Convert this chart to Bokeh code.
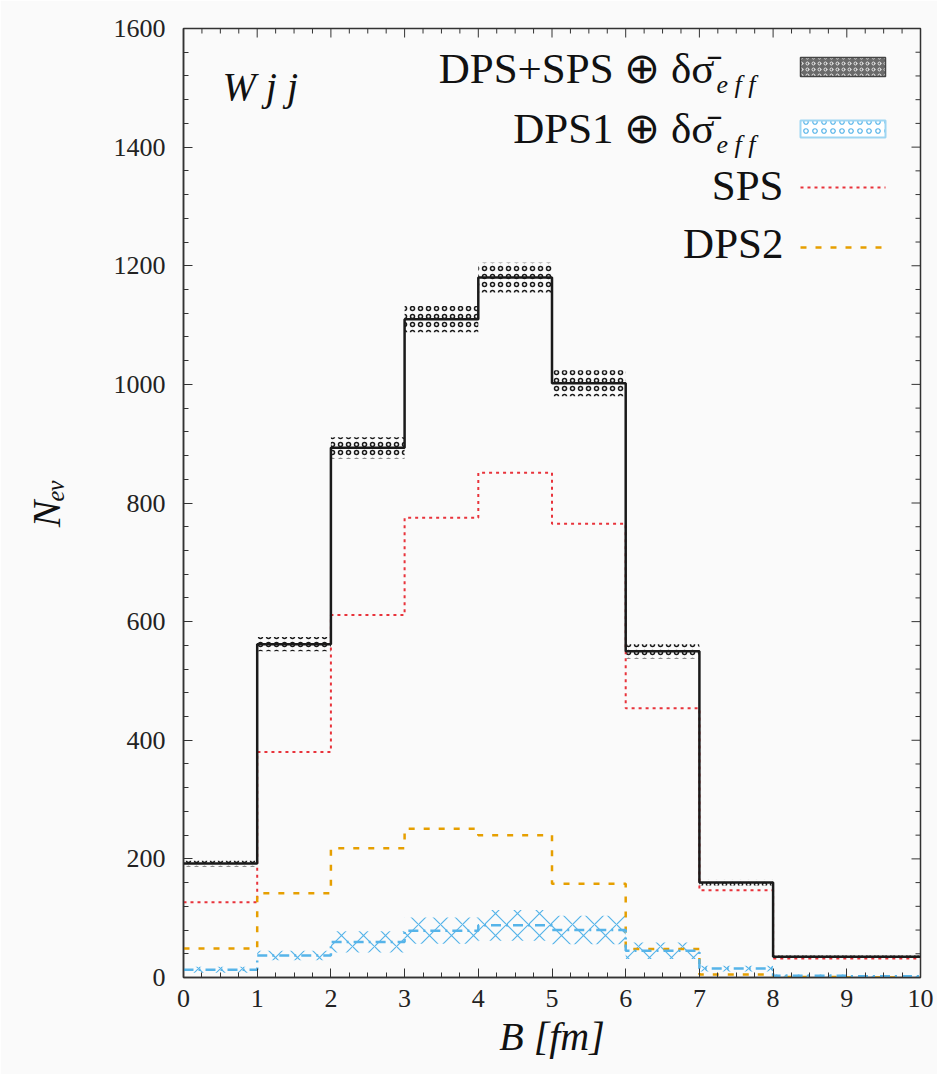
from bokeh.plotting import figure
from bokeh.models import Label, SingleIntervalTicker, Range1d
from bokeh.embed import file_html
from bokeh.resources import INLINE

# ---------------- data ----------------
bin_edges = [0, 1, 2, 3, 4, 5, 6, 7, 8, 9, 10]
total = [192, 562, 893, 1110, 1180, 1002, 550, 160, 35, 35]       # DPS+SPS
total_err = [5, 12, 18, 22, 25, 22, 12, 5, 2, 2]
dps1 = [13, 37, 60, 79, 88, 80, 45, 15, 3, 2]                      # DPS1
dps1_err = [5, 8, 18, 22, 26, 24, 14, 5, 2, 2]
sps = [127, 380, 611, 775, 851, 765, 454, 147, 32, 32]             # SPS
dps2 = [49, 142, 218, 251, 240, 158, 48, 5, 1, 0]                  # DPS2
x_major_step, x_minor_per_major = 1, 4
y_major_step, y_minor_per_major = 200, 5

# ---------------- layout ----------------
W, H = 937, 1074
FL, FT, FR, FB = 183, 28, 920, 977          # frame edges in pixels
XMIN, XMAX, YMIN, YMAX = 0, 10, 0, 1600
SERIF = "Liberation Serif"
BG = "#fafafa"
AXC = "#333333"
BLACK = "#1a1a1a"
BLUE = "#56b4e9"
RED = "#e8333b"
ORANGE = "#e69f00"
MAJ_LEN, MIN_LEN = 9, 5


def px2x(px):
    return XMIN + (px - FL) * (XMAX - XMIN) / (FR - FL)


def px2y(py):
    return YMIN + (FB - py) * (YMAX - YMIN) / (FB - FT)


DX = (XMAX - XMIN) / (FR - FL)   # data units per pixel
DY = (YMAX - YMIN) / (FB - FT)

p = figure(frame_width=FR - FL, frame_height=FB - FT,
           x_range=Range1d(XMIN, XMAX), y_range=Range1d(YMIN, YMAX),
           output_backend="svg", toolbar_location=None,
           min_border_left=FL, min_border_top=FT,
           min_border_right=W - FR, min_border_bottom=H - FB)
p.background_fill_color = BG
p.border_fill_color = BG
p.xgrid.visible = False
p.ygrid.visible = False
p.outline_line_color = AXC
p.outline_line_width = 1.5

p.xaxis.ticker = SingleIntervalTicker(interval=x_major_step, num_minor_ticks=x_minor_per_major)
p.yaxis.ticker = SingleIntervalTicker(interval=y_major_step, num_minor_ticks=y_minor_per_major)
for ax in (p.xaxis[0], p.yaxis[0]):
    ax.axis_line_color = AXC
    ax.axis_line_width = 1.5
    ax.major_tick_in = MAJ_LEN
    ax.major_tick_out = 0
    ax.minor_tick_in = MIN_LEN
    ax.minor_tick_out = 0
    ax.major_tick_line_color = AXC
    ax.minor_tick_line_color = AXC
    ax.major_label_text_font = SERIF
    ax.major_label_text_font_size = "26px"
    ax.major_label_text_color = "#222222"
    ax.axis_label_text_font = SERIF
    ax.axis_label_text_font_size = "40px"
    ax.axis_label_text_font_style = "italic"
    ax.axis_label_text_color = "#111111"
p.yaxis.major_label_standoff = 18
p.xaxis.major_label_standoff = 12
p.xaxis.axis_label = "B [fm]"
p.xaxis.axis_label_standoff = 4
p.yaxis.axis_label = "N\u2091\u1d65"
p.yaxis.axis_label_standoff = 42

# mirror ticks on the right and top edges (gnuplot style)
y_minor_step = y_major_step / y_minor_per_major
x_minor_step = x_major_step / x_minor_per_major
ry = [YMIN + i * y_minor_step for i in range(int(round((YMAX - YMIN) / y_minor_step)) + 1)]
rlen = [(MAJ_LEN if abs(v / y_major_step - round(v / y_major_step)) < 1e-9 else MIN_LEN) * DX
        for v in ry]
p.segment(x0=[XMAX - l for l in rlen], x1=[XMAX] * len(ry), y0=ry, y1=ry,
          line_color=AXC, line_width=1)
tx = [XMIN + i * x_minor_step for i in range(int(round((XMAX - XMIN) / x_minor_step)) + 1)]
tlen = [(MAJ_LEN if abs(v / x_major_step - round(v / x_major_step)) < 1e-9 else MIN_LEN) * DY
        for v in tx]
p.segment(x0=tx, x1=tx, y0=[YMAX - l for l in tlen], y1=[YMAX] * len(tx),
          line_color=AXC, line_width=1)

lefts = bin_edges[:-1]
rights = bin_edges[1:]

# uncertainty bands
p.quad(left=lefts, right=rights,
       bottom=[v - e for v, e in zip(total, total_err)],
       top=[v + e for v, e in zip(total, total_err)],
       fill_alpha=0, line_alpha=0,
       hatch_pattern="ring", hatch_color=BLACK, hatch_scale=8, hatch_weight=1.5)
p.quad(left=lefts, right=rights,
       bottom=[v - e for v, e in zip(dps1, dps1_err)],
       top=[v + e for v, e in zip(dps1, dps1_err)],
       fill_alpha=0, line_alpha=0,
       hatch_pattern="diagonal_cross", hatch_color=BLUE, hatch_scale=22, hatch_weight=1.2)

# step lines
p.step(x=bin_edges, y=sps + [sps[-1]], mode="after", line_color=RED, line_width=2,
       line_dash="3 4")
p.step(x=bin_edges, y=dps2 + [dps2[-1]], mode="after", line_color=ORANGE, line_width=2.5,
       line_dash="6 9")
p.step(x=bin_edges, y=dps1 + [dps1[-1]], mode="after", line_color=BLUE, line_width=2.5,
       line_dash="10 5 2 5")
p.step(x=bin_edges, y=total + [total[-1]], mode="after", line_color=BLACK, line_width=2.5)

# ---------------- legend (custom: text left, sample right) ----------------
LX0, LX1 = px2x(800), px2x(885)
p.quad(left=[LX0], right=[LX1], bottom=[px2y(76)], top=[px2y(57)],
       fill_color="#6a6a6a", line_color="#444444", line_width=1.5,
       hatch_pattern="ring", hatch_color="#e8e8e8", hatch_scale=6, hatch_weight=1)
p.quad(left=[LX0], right=[LX1], bottom=[px2y(137)], top=[px2y(120)],
       fill_color="#ffffff", line_color="#9fd6f2", line_width=2,
       hatch_pattern="ring", hatch_color=BLUE, hatch_scale=9, hatch_weight=1.2)
p.line(x=[LX0, LX1], y=[px2y(187), px2y(187)], line_color=RED, line_width=2, line_dash="3 4")
p.line(x=[LX0, LX1], y=[px2y(247), px2y(247)], line_color=ORANGE, line_width=2.5,
       line_dash="6 9")


def lab(x, y, text, size, align="left", style="normal", color="#111111"):
    p.add_layout(Label(x=x, y=y, text=text, text_font=SERIF, text_font_size=size,
                       text_font_style=style, text_align=align, text_baseline="middle",
                       text_color=color))


lab(px2x(714), px2y(68), "DPS+SPS ⊕ δσ̄", "43px", align="right")
lab(px2x(716), px2y(84), "e f f", "26px", style="italic")
lab(px2x(714), px2y(128), "DPS1 ⊕ δσ̄", "43px", align="right")
lab(px2x(716), px2y(144), "e f f", "26px", style="italic")
lab(px2x(783), px2y(185), "SPS", "43px", align="right")
lab(px2x(783), px2y(243), "DPS2", "43px", align="right")

# title inside plot
lab(px2x(222), px2y(86), "W j j", "40px", style="italic")

open("out.html", "w").write(file_html(p, INLINE))
